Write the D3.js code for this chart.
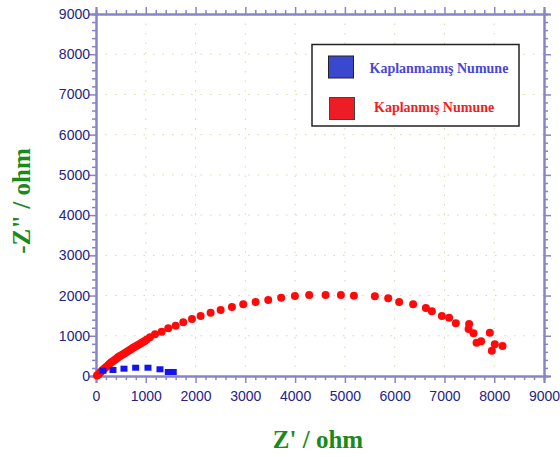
<!DOCTYPE html>
<html><head><meta charset="utf-8">
<script src="https://cdn.jsdelivr.net/npm/d3@7"></script>
<style>body{margin:0;background:#fff;}svg{display:block;}</style>
</head><body>
<svg id="chart" width="560" height="457"></svg>
<script>
// Data (Z' in ohm, -Z'' in ohm)
const uncoatedX = [141, 341, 562, 797, 1044, 1285, 1452, 1552];
const uncoatedY = [132, 149, 182, 206, 206, 167, 100, 100];

const coatedX = [20, 50, 80, 110, 140, 175, 210, 245, 280, 310, 345, 380, 415, 442, 475, 510, 545, 576, 610, 645, 680, 709, 745, 775, 810, 843, 880, 910, 945, 978, 1020,
  1084, 1185, 1319, 1452, 1600, 1753, 1928, 2102, 2303, 2504, 2731, 2958, 3207, 3460, 3720, 3996, 4283, 4612, 4920, 5181, 5602, 5870, 6090, 6371, 6627, 6747, 6948, 7094, 7229, 7496, 7484, 7584, 7645, 7737, 7912, 8012, 7952, 8167];
const coatedY = [10, 40, 80, 120, 155, 191, 230, 270, 310, 341, 375, 405, 435, 465, 490, 515, 540, 565, 593, 620, 648, 672, 700, 722, 746, 771, 798, 820, 846, 871, 905,
  963, 1037, 1102, 1187, 1251, 1336, 1418, 1493, 1575, 1642, 1716, 1784, 1841, 1891, 1948, 1990, 2015, 2015, 2015, 1998, 1983, 1933, 1841, 1784, 1692, 1609, 1493, 1450, 1311, 1294, 1169, 1062, 828, 863, 1077, 789, 629, 746];

const majorTicks = [0, 1000, 2000, 3000, 4000, 5000, 6000, 7000, 8000, 9000];
const tickLabels = ["0", "1000", "2000", "3000", "4000", "5000", "6000", "7000", "8000", "9000"];
const minorStep = 200;
const seriesNames = ["Kaplanmamış Numune", "Kaplanmış Numune"];
const xTitle = "Z' / ohm";
const yTitle = "-Z\" / ohm";

const svg = d3.select("#chart");
const L = 96, R = 544, T = 14, B = 376;
const x = d3.scaleLinear().domain([0, 9000]).range([L, R]);
const y = d3.scaleLinear().domain([0, 9000]).range([B, T]);
const minorTicks = d3.range(0, 9000 + 1, minorStep).filter(v => v % 1000 !== 0);

const axisCol = "#8585c8";
const labelCol = "#23238a";

// grid
const grid = svg.append("g");
majorTicks.slice(1, -1).forEach(v => {
  grid.append("line").attr("x1", x(v)).attr("x2", x(v)).attr("y1", T).attr("y2", B)
    .attr("stroke", "#d6d9a8").attr("stroke-width", 1).attr("stroke-dasharray", "1.5,8");
  grid.append("line").attr("x1", L).attr("x2", R).attr("y1", y(v)).attr("y2", y(v))
    .attr("stroke", "#d6d9a8").attr("stroke-width", 1).attr("stroke-dasharray", "1.5,8");
});

function styleAxis(g) {
  g.selectAll("path.domain").attr("stroke", axisCol).attr("stroke-width", 2);
  g.selectAll(".tick line").attr("stroke", axisCol).attr("stroke-width", 1.5);
  g.selectAll("text").attr("fill", labelCol).attr("font-family", "Liberation Sans, Arial, sans-serif").attr("font-size", 14);
}

// minor axes
[[d3.axisBottom(x), `translate(0,${B})`], [d3.axisTop(x), `translate(0,${T})`],
 [d3.axisLeft(y), `translate(${L},0)`], [d3.axisRight(y), `translate(${R},0)`]].forEach(([ax, tr]) => {
  svg.append("g").attr("transform", tr)
    .call(ax.tickValues(minorTicks).tickSize(4).tickFormat(""))
    .call(styleAxis);
});
// major axes
svg.append("g").attr("transform", `translate(0,${B})`)
  .call(d3.axisBottom(x).tickValues(majorTicks).tickSize(7).tickPadding(8).tickFormat((d, i) => tickLabels[i]))
  .call(styleAxis);
svg.append("g").attr("transform", `translate(0,${T})`)
  .call(d3.axisTop(x).tickValues(majorTicks).tickSize(7).tickFormat("")).call(styleAxis);
svg.append("g").attr("transform", `translate(${L},0)`)
  .call(d3.axisLeft(y).tickValues(majorTicks).tickSize(7).tickPadding(-1).tickFormat((d, i) => tickLabels[i]))
  .call(styleAxis);
svg.append("g").attr("transform", `translate(${R},0)`)
  .call(d3.axisRight(y).tickValues(majorTicks).tickSize(7).tickFormat("")).call(styleAxis);

// data: coated (red circles)
svg.append("g").selectAll("circle").data(coatedX.map((v, i) => [v, coatedY[i]])).join("circle")
  .attr("cx", d => x(d[0])).attr("cy", d => y(d[1])).attr("r", 4).attr("fill", "#ff0a0a");
// uncoated (blue squares)
svg.append("g").selectAll("rect").data(uncoatedX.map((v, i) => [v, uncoatedY[i]])).join("rect")
  .attr("x", d => x(d[0]) - 3.5).attr("y", d => y(d[1]) - 3).attr("width", 7).attr("height", 6).attr("fill", "#1414f0");

// legend
const lg = svg.append("g");
lg.append("rect").attr("x", 312).attr("y", 44.5).attr("width", 207).attr("height", 81.5)
  .attr("fill", "#fff").attr("stroke", "#222").attr("stroke-width", 1.5);
lg.append("rect").attr("x", 328.5).attr("y", 56).attr("width", 25).attr("height", 22)
  .attr("fill", "#3a47cf").attr("stroke", "#222").attr("stroke-width", 1);
lg.append("rect").attr("x", 329.5).attr("y", 97.5).attr("width", 25).attr("height", 22)
  .attr("fill", "#ee1c25").attr("stroke", "#444").attr("stroke-width", 1);
lg.append("text").attr("x", 369.5).attr("y", 72.5).text(seriesNames[0])
  .attr("font-family", "Liberation Serif, Times New Roman, serif").attr("font-weight", "bold").attr("font-size", 14).attr("fill", "#4848d4");
lg.append("text").attr("x", 374).attr("y", 111.5).text(seriesNames[1])
  .attr("font-family", "Liberation Serif, Times New Roman, serif").attr("font-weight", "bold").attr("font-size", 14).attr("fill", "#f41c24");

// axis titles
svg.append("text").attr("x", 318).attr("y", 448).attr("text-anchor", "middle").text(xTitle)
  .attr("font-family", "Liberation Serif, Times New Roman, serif").attr("font-weight", "bold").attr("font-size", 25).attr("fill", "#1a8a1a");
svg.append("text").attr("transform", "translate(30,201) rotate(-90)").attr("text-anchor", "middle").text(yTitle)
  .attr("font-family", "Liberation Serif, Times New Roman, serif").attr("font-weight", "bold").attr("font-size", 25).attr("fill", "#1a8a1a");
</script>
</body></html>
